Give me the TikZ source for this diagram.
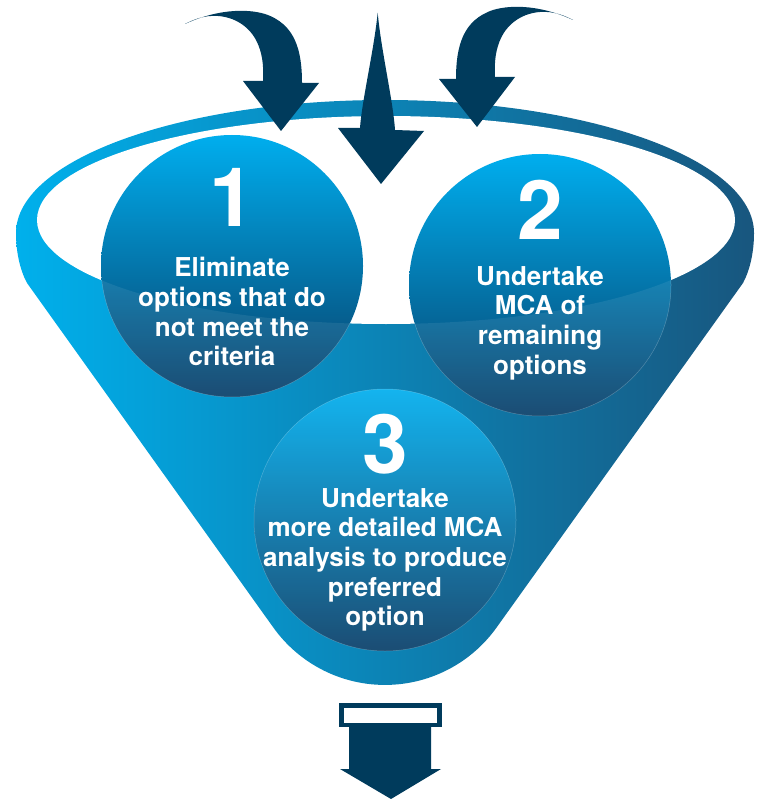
\documentclass[tikz,border=0pt]{standalone}
\usepackage{fontspec}
\setmainfont{TeX Gyre Heros}
\definecolor{fl}{RGB}{0,176,236}
\definecolor{fr}{RGB}{24,86,126}
\definecolor{ctop}{RGB}{0,174,238}
\definecolor{cmid}{RGB}{0,100,152}
\definecolor{cbot}{RGB}{8,62,104}
\definecolor{navy}{RGB}{0,59,92}
\tikzset{
  stepcircle/.style={top color=ctop, middle color=cmid, bottom color=cbot},
  numtext/.style={text=white, font=\fontsize{82}{82}\selectfont\bfseries, anchor=base, inner sep=0pt},
  desctext/.style={text=white, font=\fontsize{26}{29.7}\selectfont\bfseries, align=center, anchor=base, inner sep=0pt},
  arrowfill/.style={fill=navy}
}
\begin{document}
\begin{tikzpicture}[x=1pt,y=-1pt]
\useasboundingbox (0,0) rectangle (767,799);
% funnel body
\shade[left color=fl, right color=fr]
  (27,283) -- (273.4,627.6) arc[start angle=215.6, end angle=324.4, radius=137.2pt]
  -- (743,283) .. controls (750,270) and (754,252) .. (754,233)
  arc[start angle=0, end angle=180, x radius=369pt, y radius=133pt]
  .. controls (16,252) and (20,270) .. (27,283) -- cycle;
% inner opening
\fill[white] (386,220) ellipse [x radius=349pt, y radius=104pt];
% circles
\shade[stepcircle] (232,266) circle[radius=131pt];
\shade[stepcircle] (540,285) circle[radius=131pt];
\shade[stepcircle] (385,520) circle[radius=131pt];
% lighter part of circles below the opening
\begin{scope}
  \clip (0,220) -- (37,220) arc[start angle=180, end angle=360, x radius=349pt, y radius=104pt]
        -- (767,220) -- (767,799) -- (0,799) -- cycle;
  \fill[white, opacity=.08] (232,266) circle[radius=131pt];
  \fill[white, opacity=.08] (540,285) circle[radius=131pt];
  \fill[white, opacity=.08] (385,520) circle[radius=131pt];
  \draw[white, opacity=.25, line width=.5pt] (232,266) circle[radius=131pt];
  \draw[white, opacity=.25, line width=.5pt] (540,285) circle[radius=131pt];
  \draw[white, opacity=.25, line width=.5pt] (385,520) circle[radius=131pt];
\end{scope}
% texts (base anchor = baseline of the last line)
\node[numtext] (n1) at (232,227) {1};
\node[numtext] (n2) at (540,240) {2};
\node[numtext] (n3) at (385,473) {3};
\node[desctext] (t1) at (232,365.8) {Eliminate\\options that do\\not meet the\\criteria};
\node[desctext] (t2) at (540,374.1) {Undertake\\MCA of\\remaining\\options};
\node[desctext] (t3) at (385,625.8) {Undertake\\more detailed MCA\\analysis to produce\\preferred\\option};
% top arrows
\fill[arrowfill] (185,24) .. controls (215,10) and (245,8) .. (265,14)
  .. controls (295,24) and (302,50) .. (302,83) -- (319,83) -- (281,131) -- (243,81) -- (263,81)
  .. controls (265,50) and (255,28) .. (232,19) .. controls (215,13) and (200,16) .. cycle;
\begin{scope}[xshift=758pt, xscale=-1, yshift=4pt]
\fill[arrowfill] (185,24) .. controls (215,10) and (245,8) .. (265,14)
  .. controls (295,24) and (302,50) .. (302,83) -- (319,83) -- (281,131) -- (243,81) -- (263,81)
  .. controls (265,50) and (255,28) .. (232,19) .. controls (215,13) and (200,16) .. cycle;
\end{scope}
\fill[arrowfill] (377.7,12.7) .. controls (374,50) and (362,100) .. (360,128) -- (338,128)
  -- (381,184) -- (424,131) -- (395,130) .. controls (393,100) and (381,50) .. cycle;
% bottom arrow
\fill[arrowfill] (339,703) rectangle (442,727);
\fill[white] (344,708) rectangle (437,723);
\fill[arrowfill] (349,727) -- (431,727) -- (431,769) -- (441,769) -- (391,799) -- (340,769) -- (349,769) -- cycle;
\end{tikzpicture}
\end{document}
